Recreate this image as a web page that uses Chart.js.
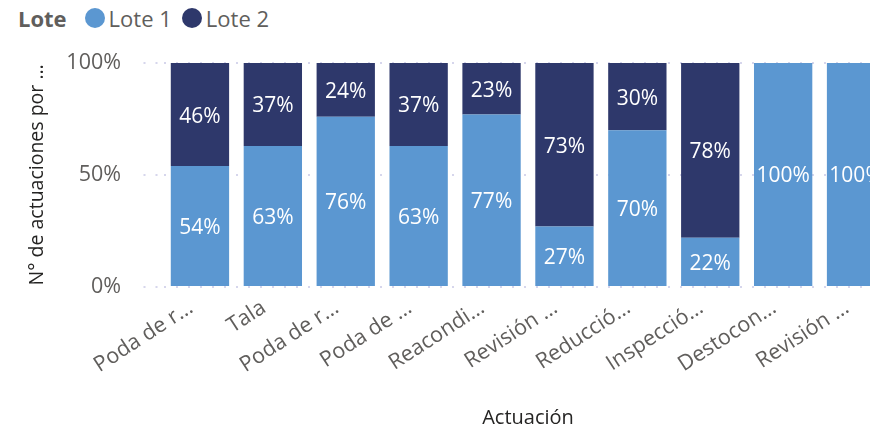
<!DOCTYPE html>
<html>
<head>
<meta charset="utf-8">
<script src="https://cdn.jsdelivr.net/npm/chart.js@4"></script>
<style>
  html, body { margin: 0; padding: 0; background: #fff; overflow: hidden; width: 870px; height: 431px; }
  #wrap { position: relative; width: 870px; height: 431px; overflow: hidden; }
  #legend { position: absolute; top: 3px; left: 18px; font-family: "Open Sans", sans-serif; font-size: 22px; color: #605e5c; display: flex; align-items: center; white-space: nowrap; }
  #legend b { margin-right: 18px; }
  #legend .item { display: flex; align-items: center; margin-right: 10px; }
  #legend .dot { width: 20px; height: 20px; border-radius: 50%; margin-right: 4px; }
  canvas { position: absolute; top: 0; left: 0; }
</style>
</head>
<body>
<div id="wrap">
  <div id="legend"></div>
  <canvas id="chart" width="895" height="431"></canvas>
</div>
<script>
// --- Data ---
const categories = ['Poda de r…', 'Tala', 'Poda de r…', 'Poda de …', 'Reacondi…', 'Revisión …', 'Reducció…', 'Inspecció…', 'Destocon…', 'Revisión …'];
const lote1 = [54, 63, 76, 63, 77, 27, 70, 22, 100, 100];
const lote2 = [46, 37, 24, 37, 23, 73, 30, 78, 0, 0];
const yTicks = [0, 50, 100];
const seriesNames = ['Lote 1', 'Lote 2'];
const seriesColors = ['#5b97d1', '#2e386b'];

const FONT = '"Open Sans", sans-serif';
const GRID = '#d6d6ec';

// --- Legend (HTML) ---
const legend = document.getElementById('legend');
legend.innerHTML = '<b>Lote</b>' + seriesNames.map((n, i) =>
    `<span class="item"><span class="dot" style="background:${seriesColors[i]}"></span>${n}</span>`
).join('');

// --- In-bar percentage labels ---
const barLabels = {
    id: 'barLabels',
    afterDatasetsDraw(chart) {
        const ctx = chart.ctx;
        ctx.save();
        ctx.font = `21px ${FONT}`;
        ctx.fillStyle = '#ffffff';
        ctx.textAlign = 'center';
        ctx.textBaseline = 'middle';
        chart.data.datasets.forEach((ds, di) => {
            chart.getDatasetMeta(di).data.forEach((bar, i) => {
                const v = ds.data[i];
                if (!v) return;
                ctx.fillText(v + '%', bar.x, (bar.y + bar.base) / 2 + 2);
            });
        });
        ctx.restore();
    }
};

new Chart(document.getElementById('chart'), {
    type: 'bar',
    data: {
        labels: categories,
        datasets: [
            { label: seriesNames[0], data: lote1, backgroundColor: seriesColors[0] },
            { label: seriesNames[1], data: lote2, backgroundColor: seriesColors[1] }
        ]
    },
    options: {
        responsive: false,
        animation: false,
        barPercentage: 0.8,
        categoryPercentage: 1,
        layout: { padding: { top: 63, right: 2.5, left: 0, bottom: 0 } },
        plugins: { legend: { display: false }, tooltip: { enabled: false } },
        scales: {
            x: {
                stacked: true,
                grid: { display: false, drawTicks: false },
                border: { display: false },
                ticks: {
                    autoSkip: false,
                    maxRotation: 33, minRotation: 33,
                    labelOffset: -9,
                    padding: 8,
                    color: '#605e5c',
                    font: { family: FONT, size: 21.5 }
                },
                title: {
                    display: true, text: 'Actuación', color: '#252423',
                    font: { family: FONT, size: 20 }, padding: { top: 0, bottom: 1 }
                },
                afterFit: (scale) => { scale.height = 144; }
            },
            y: {
                stacked: true,
                min: 0, max: 100,
                afterBuildTicks: (scale) => { scale.ticks = yTicks.map(v => ({ value: v })); },
                border: { display: false, dash: [2, 10], dashOffset: 0 },
                grid: {
                    color: GRID, lineWidth: 2,
                    tickLength: 20, tickColor: GRID, tickWidth: 2,
                    tickBorderDash: [2, 10]
                },
                ticks: {
                    padding: 22.5,
                    color: '#605e5c',
                    font: { family: FONT, size: 21.5 },
                    callback: v => v + '%'
                },
                title: {
                    display: true, text: 'N° de actuaciones por …', color: '#252423',
                    font: { family: FONT, size: 19.5 }, padding: { top: 26, bottom: 0 }
                },
                afterFit: (scale) => { scale.width = 163.5; }
            }
        }
    },
    plugins: [barLabels]
});
</script>
</body>
</html>
